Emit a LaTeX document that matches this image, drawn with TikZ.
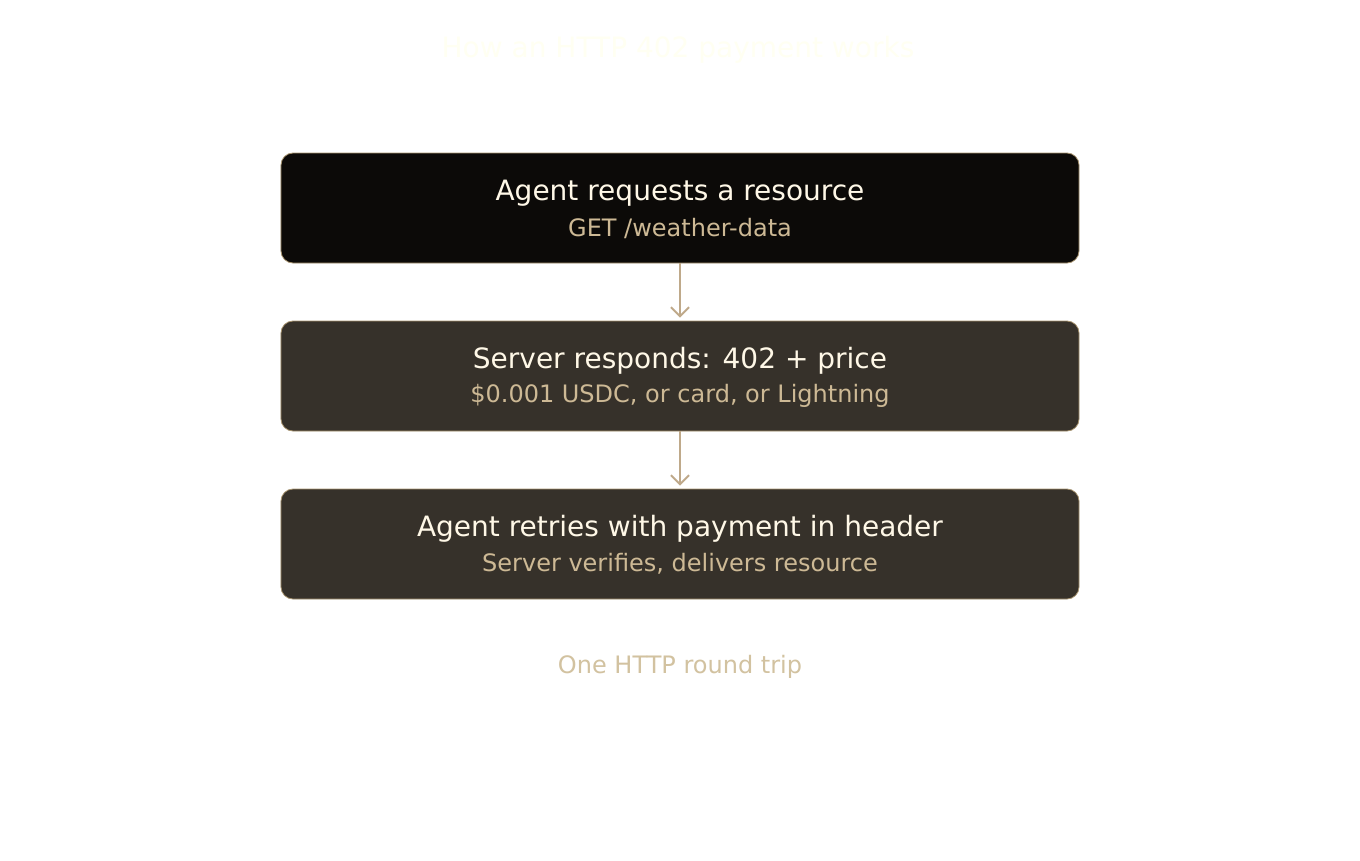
\documentclass[tikz,border=0pt]{standalone}
\usepackage{fontspec}
\setmainfont{DejaVu Sans}
\usetikzlibrary{arrows.meta}
\definecolor{boxA}{HTML}{0C0A08}
\definecolor{boxB}{HTML}{36312A}
\definecolor{edge}{HTML}{A8946F}
\definecolor{maintxt}{HTML}{FFF8E7}
\definecolor{subtxt}{HTML}{CDB995}
\definecolor{foot}{HTML}{D2C2A0}
\definecolor{ttl}{HTML}{FFFFF2}
\definecolor{arr}{HTML}{BFA98A}
\tikzset{
  stepbox/.style={draw=edge, line width=0.8bp, rounded corners=12bp, minimum width=798bp, minimum height=110bp, inner sep=0pt},
  mainline/.style={text=maintxt, font=\fontsize{28bp}{32bp}\selectfont},
  subline/.style={text=subtxt, font=\fontsize{24bp}{28bp}\selectfont},
  flow/.style={draw=arr, line width=2bp, -{Straight Barb[length=9bp,width=18bp,line width=2bp]}}
}
\begin{document}
\begin{tikzpicture}[x=1bp,y=-1bp]
\useasboundingbox[fill=white] (0,0) rectangle (1360,860);
\node[text=ttl, font=\fontsize{28bp}{32bp}\selectfont] (title) at (678,50) {How an HTTP 402 payment works};
\node[stepbox, fill=boxA] (b1) at (680,208) {};
\node[stepbox, fill=boxB] (b2) at (680,376) {};
\node[stepbox, fill=boxB] (b3) at (680,544) {};
\node[mainline] (t1) at (680,193) {Agent requests a resource};
\node[subline] (s1) at (680,228) {GET /weather-data};
\node[mainline] (t2) at (680,361) {Server responds: 402 + price};
\node[subline] (s2) at (680,396) {\$0.001 USDC, or card, or Lightning};
\node[mainline] (t3) at (680,529) {Agent retries with payment in header};
\node[subline] (s3) at (680,564) {Server verifies, delivers resource};
\node[text=foot, font=\fontsize{24bp}{28bp}\selectfont] (foot) at (680,667) {One HTTP round trip};
\draw[flow] (b1.south) -- ([yshift=3bp]b2.north);
\draw[flow] (b2.south) -- ([yshift=3bp]b3.north);
\end{tikzpicture}
\end{document}
